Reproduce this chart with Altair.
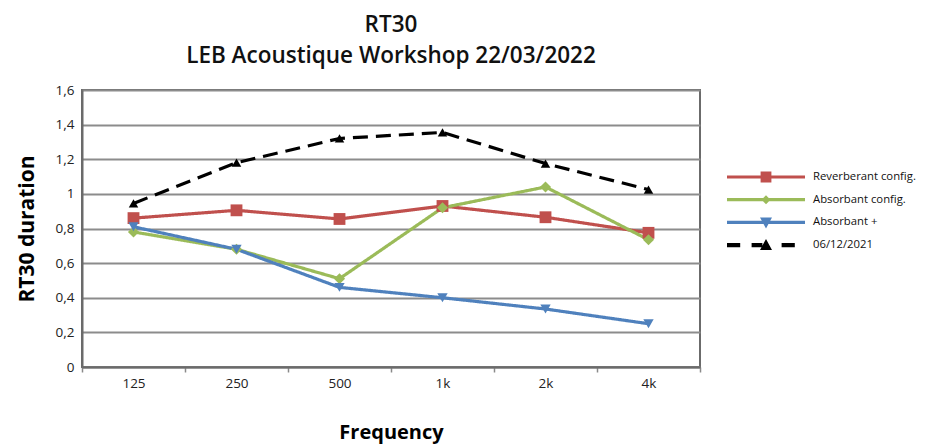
import altair as alt
import pandas as pd

freqs = ["125", "250", "500", "1k", "2k", "4k"]
series = ["Reverberant config.", "Absorbant config.", "Absorbant +", "06/12/2021"]
reverberant = [0.86, 0.905, 0.855, 0.93, 0.865, 0.775]
absorbant = [0.78, 0.68, 0.51, 0.92, 1.04, 0.735]
absorbant_plus = [0.81, 0.68, 0.46, 0.40, 0.335, 0.25]
ref_2021 = [0.945, 1.18, 1.32, 1.355, 1.175, 1.025]
y_ticks = [0, 0.2, 0.4, 0.6, 0.8, 1, 1.2, 1.4, 1.6]

colors = ["#c0504d", "#9bbb59", "#4f81bd", "#000000"]
shapes = ["square", "diamond", "triangle-down", "triangle-up"]
dashes = [[1, 0], [1, 0], [1, 0], [15, 8]]
sizes_w = [3.2, 3.2, 3.2, 3.8]

rows = []
for name, vals in zip(series, [reverberant, absorbant, absorbant_plus, ref_2021]):
    for i, (f, v) in enumerate(zip(freqs, vals)):
        rows.append({"freq": f, "idx": i, "series": name, "value": v})
df = pd.DataFrame(rows)

FONT = "Open Sans"

line_path = "M-6.5,-0.27H6.5V0.27H-6.5Z "
legend_paths = [
    line_path + "M-0.9,-0.9H0.9V0.9H-0.9Z",
    line_path + "M0,-0.75L0.75,0L0,0.75L-0.75,0Z",
    line_path + "M-1,-0.8H1L0,1Z",
    ("M-6.5,-0.35H-4.3V0.35H-6.5Z M-2.4,-0.35H-0.6V0.35H-2.4Z "
     "M0,-1L1,0.8H-1Z M2.6,-0.35H4.8V0.35H2.6Z"),
]

x_enc = alt.X(
    "freq:N",
    sort=freqs,
    scale=alt.Scale(type="band", paddingInner=0, paddingOuter=0),
    axis=alt.Axis(
        title="Frequency", tickBand="extent", labelAngle=0,
        tickSize=5, tickColor="#8a8a8a", tickWidth=1.5,
        domainColor="#6b6b6b", domainWidth=2,
        labelFontSize=13.5, labelPadding=4, labelColor="#222",
        titleFontSize=20, titleFontWeight="bold", titlePadding=33,
        grid=False,
    ),
)
y_enc = alt.Y(
    "value:Q",
    scale=alt.Scale(domain=[0, 1.6], nice=False),
    axis=alt.Axis(
        title="RT30 duration", values=y_ticks,
        labelExpr="replace(toString(datum.value), '.', ',')",
        ticks=False, labelPadding=8, labelFontSize=13.5, labelColor="#222",
        domainColor="#6b6b6b", domainWidth=2,
        gridColor="#8c8c8c", gridWidth=2,
        titleFontSize=21, titleFontWeight="bold", titlePadding=18,
    ),
)
color_scale = alt.Scale(domain=series, range=colors)

lines = alt.Chart(df).mark_line().encode(
    x=x_enc,
    y=y_enc,
    color=alt.Color("series:N", scale=color_scale, legend=None),
    strokeDash=alt.StrokeDash("series:N", scale=alt.Scale(domain=series, range=dashes), legend=None),
    strokeWidth=alt.StrokeWidth("series:N", scale=alt.Scale(domain=series, range=sizes_w), legend=None),
    order=alt.Order("idx:Q"),
)

points = alt.Chart(df).mark_point(filled=True, opacity=1).encode(
    x=x_enc,
    y=y_enc,
    color=alt.Color("series:N", scale=color_scale, legend=None),
    shape=alt.Shape("series:N", scale=alt.Scale(domain=series, range=shapes), legend=None),
    size=alt.Size("series:N", scale=alt.Scale(domain=series, range=[140, 90, 175, 210]), legend=None),
)

legend_layer = alt.Chart(df).mark_point(filled=True, opacity=1).encode(
    x=x_enc,
    y=y_enc,
    color=alt.Color(
        "series:N", scale=color_scale,
        legend=alt.Legend(
            title=None, orient="none", legendX=678, legendY=81,
            symbolSize=144, labelOffset=41, rowPadding=10.7, padding=0,
            labelFontSize=11.3, labelFont=FONT, labelColor="#111",
            labelLimit=300,
            symbolStrokeWidth=0, symbolOpacity=1,
        ),
    ),
    shape=alt.Shape("series:N", scale=alt.Scale(domain=series, range=legend_paths)),
).transform_filter("false")

chart = alt.layer(lines, points, legend_layer).resolve_scale(
    color="independent", shape="independent"
).properties(
    width=618,
    height=277,
    autosize=alt.AutoSizeParams(type="none"),
    padding={"left": 74, "top": 82, "right": 217, "bottom": 90},
    title=alt.TitleParams(
        text=["RT30", "LEB Acoustique Workshop 22/03/2022"],
        fontSize=22.5, fontWeight=600, font=FONT, lineHeight=31,
        anchor="middle", offset=16, color="#111",
    ),
).configure(
    font=FONT,
).configure_view(
    stroke="#6b6b6b", strokeWidth=2,
).configure_axis(
    labelFont=FONT, titleFont=FONT,
)

chart.save("out.html", embed_options={"renderer": "svg", "actions": False})
